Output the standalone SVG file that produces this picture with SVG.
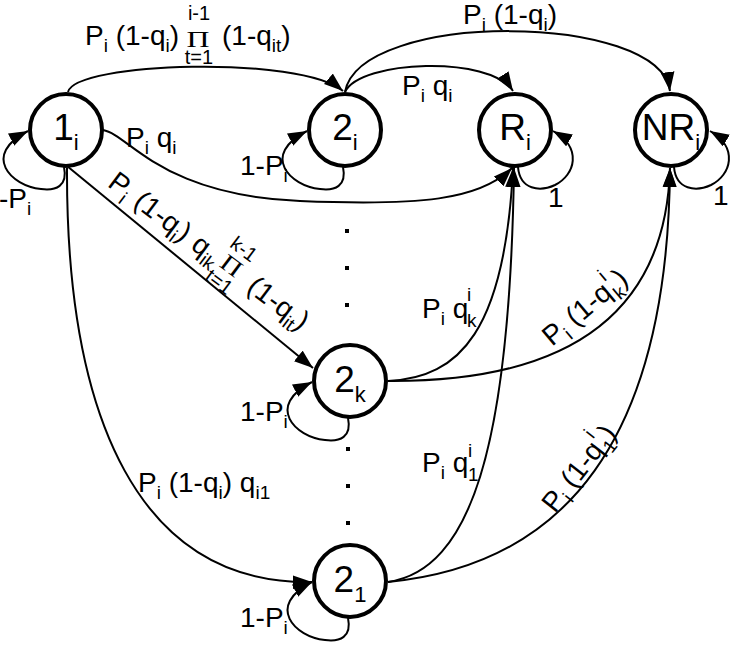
<svg xmlns="http://www.w3.org/2000/svg" width="737" height="651" viewBox="0 0 737 651">
<defs>
<style>
.node circle{fill:#fff;stroke:#000;stroke-width:4}
.nl{font-family:"Liberation Sans",Arial,sans-serif;font-size:37px;text-anchor:middle}
.ns{font-size:22px}
.e{fill:none;stroke:#000;stroke-width:2;marker-end:url(#ah)}
.lb{font-family:"Liberation Sans",Arial,sans-serif;font-size:28px}
.sb{font-size:19px}
.lim{font-family:"Liberation Sans",Arial,sans-serif;font-size:20px;text-anchor:middle}
.pr{font-family:"Liberation Serif","Times New Roman",serif;font-size:24px;text-anchor:middle}
.dot{fill:#000}
</style>
<marker id="ah" markerUnits="userSpaceOnUse" markerWidth="19" markerHeight="14" viewBox="0 0 18 13" refX="18" refY="6.5" orient="auto">
<path d="M0,0 L18,6.5 L0,13 z" fill="#000"/>
</marker>
</defs>
<rect width="737" height="651" fill="#fff"/>
<g id="connectors">
<path class="e" d="M68,92 C75,62 300,55 343,91"/>
<path class="e" d="M345,92 C360,10 660,12 670,91"/>
<path class="e" d="M345,92 C360,60 490,55 513,91"/>
<path class="e" d="M103,130 C130,135 160,195 300,201 C420,206 480,200 512,168"/>
<path class="e" d="M67,166 L313,368"/>
<path class="e" d="M67,168 C66,420 140,585 312,582"/>
<path class="e" d="M388,381 C460,378 505,330 513,168"/>
<path class="e" d="M388,381 C530,382 665,340 670,168"/>
<path class="e" d="M388,582 C470,570 510,450 514,168"/>
<path class="e" d="M388,582 C565,565 668,440 670,168"/>
<path class="e" d="M64,167 C68,186 56,191 41,189 C11,186 -19,155 28,131"/>
<path class="e" d="M343,167 C347,186 335,191 320,189 C290,186 260,155 307,131"/>
<path class="e" d="M348,418 C352,437 340,442 325,440 C295,437 265,406 312,382"/>
<path class="e" d="M348,618 C352,637 340,642 325,640 C295,637 265,606 312,582"/>
<path class="e" d="M518,167 C520,190 540,192 555,185 C575,175 583,148 553,131"/>
<path class="e" d="M674,167 C676,190 696,192 711,185 C731,175 739,148 710,131"/>
</g>
<g id="n1i" class="node"><circle cx="66" cy="130" r="36"/><text class="nl" x="66" y="140">1<tspan class="ns" dy="10">i</tspan></text></g>
<g id="n2i" class="node"><circle cx="345" cy="130" r="36"/><text class="nl" x="345" y="140">2<tspan class="ns" dy="10">i</tspan></text></g>
<g id="nRi" class="node"><circle cx="515" cy="130" r="36"/><text class="nl" x="515" y="140">R<tspan class="ns" dy="10">i</tspan></text></g>
<g id="nNRi" class="node"><circle cx="671" cy="130" r="36"/><text class="nl" x="671" y="140">NR<tspan class="ns" dy="10">i</tspan></text></g>
<g id="n2k" class="node"><circle cx="350" cy="381" r="36"/><text class="nl" x="350" y="392">2<tspan class="ns" dy="10">k</tspan></text></g>
<g id="n21" class="node"><circle cx="350" cy="581" r="36"/><text class="nl" x="350" y="592">2<tspan class="ns" dy="10">1</tspan></text></g>
<g id="labels">
<text class="lb" x="85" y="45">P<tspan class="sb" dy="7">i</tspan><tspan dy="-7"> (1-q</tspan><tspan class="sb" dy="7">i</tspan><tspan dy="-7">)</tspan></text>
<text class="pr" x="198" y="47" textLength="23" lengthAdjust="spacingAndGlyphs">Π</text>
<text class="lim" x="199" y="20">i-1</text>
<text class="lim" x="199" y="64">t=1</text>
<text class="lb" x="222" y="45">(1-q<tspan class="sb" dy="7">it</tspan><tspan dy="-7">)</tspan></text>
<text class="lb" x="463" y="24">P<tspan class="sb" dy="7">i</tspan><tspan dy="-7"> (1-q</tspan><tspan class="sb" dy="7">i</tspan><tspan dy="-7">)</tspan></text>
<text class="lb" x="402" y="95">P<tspan class="sb" dy="7">i</tspan><tspan dy="-7"> q</tspan><tspan class="sb" dy="7">i</tspan></text>
<text class="lb" x="126" y="147">P<tspan class="sb" dy="7">i</tspan><tspan dy="-7"> q</tspan><tspan class="sb" dy="7">i</tspan></text>
<text class="lb" x="240" y="175">1-P<tspan class="sb" dy="7">i</tspan></text>
<text class="lb" x="-1" y="208">-P<tspan class="sb" dy="7">i</tspan></text>
<text class="lb" x="548" y="207">1</text>
<text class="lb" x="713" y="205">1</text>
<text class="lb" x="240" y="421">1-P<tspan class="sb" dy="7">i</tspan></text>
<text class="lb" x="240" y="627">1-P<tspan class="sb" dy="7">i</tspan></text>
<text class="lb" x="138" y="492">P<tspan class="sb" dy="7">i</tspan><tspan dy="-7"> (1-q</tspan><tspan class="sb" dy="7">i</tspan><tspan dy="-7">) q</tspan><tspan class="sb" dy="7">i1</tspan></text>
<g transform="translate(106.6,185.4) rotate(37)">
<text class="lb" x="0" y="0">P<tspan class="sb" dy="7">i</tspan><tspan x="32" dy="-7">(1-q</tspan><tspan class="sb" dy="7">i</tspan><tspan dy="-7">)</tspan><tspan x="104">q</tspan><tspan class="sb" dy="7">ik</tspan></text>
<text class="pr" x="148" y="-3" textLength="21" lengthAdjust="spacingAndGlyphs">Π</text>
<text class="lim" x="148" y="-25">k-1</text>
<text class="lim" x="148" y="16">t=1</text>
<text class="lb" x="174" y="0">(1-q<tspan class="sb" dy="7">it</tspan><tspan dy="-7">)</tspan></text>
</g>
<text class="lb" x="422" y="318">P<tspan class="sb" dy="7">i</tspan><tspan dy="-7"> q</tspan></text>
<text class="lb sb" x="467" y="301">i</text>
<text class="lb sb" x="467" y="327">k</text>
<text class="lb" x="422" y="472">P<tspan class="sb" dy="7">i</tspan><tspan dy="-7"> q</tspan></text>
<text class="lb sb" x="468" y="457">i</text>
<text class="lb sb" x="468" y="481">1</text>
<g transform="translate(552,347) rotate(-40)">
<text class="lb" x="0" y="0">P<tspan class="sb" dy="7">i</tspan><tspan dy="-7"> (1-q</tspan></text>
<text class="lb sb" x="82" y="-16">i</text>
<text class="lb sb" x="82" y="8">k</text>
<text class="lb" x="92" y="0">)</text>
</g>
<g transform="translate(555,514) rotate(-52)">
<text class="lb" x="0" y="0">P<tspan class="sb" dy="7">i</tspan><tspan dy="-7"> (1-q</tspan></text>
<text class="lb sb" x="82" y="-16">i</text>
<text class="lb sb" x="82" y="8">1</text>
<text class="lb" x="92" y="0">)</text>
</g>
</g>
<g id="dots">
<rect class="dot" x="345" y="229" width="4" height="4"/>
<rect class="dot" x="345" y="266" width="4" height="4"/>
<rect class="dot" x="345" y="303" width="4" height="4"/>
<rect class="dot" x="346" y="447" width="4" height="4"/>
<rect class="dot" x="346" y="484" width="4" height="4"/>
<rect class="dot" x="346" y="521" width="4" height="4"/>
</g>
</svg>
